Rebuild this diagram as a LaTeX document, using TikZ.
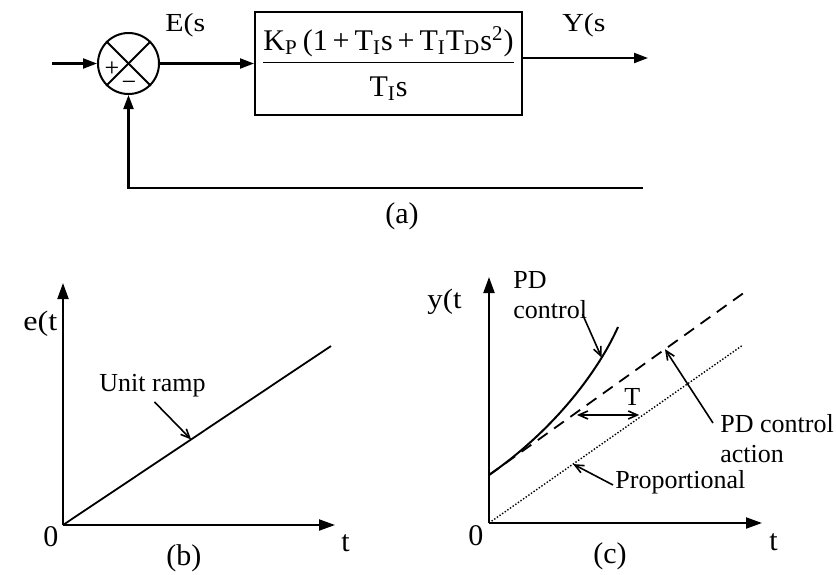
\documentclass[tikz,border=0pt]{standalone}
\usepackage{fontspec}
\setmainfont{Liberation Serif}
\usepackage{graphicx}
\usetikzlibrary{arrows.meta,calc}

\begin{document}
\begin{tikzpicture}[x=0.5pt,y=-0.5pt,
  line/.style={line width=1pt},
  flow/.style={line width=1.1pt,-{Triangle[length=7pt,width=5pt]}},
  axis/.style={line width=1pt,-{Triangle[length=8pt,width=5.5pt]}},
  pointer/.style={line width=0.8pt,-{Straight Barb[length=4.5pt,width=4pt]}},
  sig/.style={inner sep=0pt,anchor=base west,font=\fontsize{13}{15}\selectfont},
  note/.style={inner sep=0pt,anchor=base west,align=left,font=\fontsize{13}{15}\selectfont},
  big/.style={inner sep=0pt,anchor=base west,font=\fontsize{15}{18}\selectfont}]
\useasboundingbox (0,0) rectangle (836,574);

% (a) block diagram
\node[circle,draw,line width=1pt,minimum size=30.5pt,inner sep=0pt] (sum) at (128.5,63.5) {};
\draw[line] (sum.north west) -- (sum.south east);
\draw[line] (sum.north east) -- (sum.south west);
\node[inner sep=0pt,font=\fontsize{13}{14}\selectfont] (plus) at (112,69) {+};
\node[inner sep=0pt,font=\fontsize{13}{14}\selectfont] (minus) at (129,86) {−};

\node[draw,line width=1pt,minimum width=133.5pt,minimum height=51.5pt,inner sep=0pt,
  font=\fontsize{15}{18}\selectfont] (plant) at (388.5,63.5)
  {$\displaystyle\frac{\mbox{K\textsubscript{P}\,(1\,+\,T\textsubscript{I}s\,+\,T\textsubscript{I}T\textsubscript{D}s\textsuperscript{2})}}
  {\mbox{\rule{0pt}{15.5pt}T\textsubscript{I}s}}$};

\coordinate (in) at (52,63.5);
\coordinate (out) at (648,58);
\coordinate (fb) at (643,188);
\draw[flow] (in) -- (sum.west);
\draw[flow] (sum.east) -- (plant.west);
\draw[flow] (plant.east |- out) -- (out);
\draw[flow] (fb) -| (sum.south);

\node[sig] (err) at (165,31) {\scalebox{1.15}[1]{E(s}};
\node[sig] (yout) at (562,31) {\scalebox{1.15}[1]{Y(s}};
\node[big] (capa) at (385,223) {(a)};

% (b) ramp input
\coordinate (ob) at (63,525);
\coordinate (by) at (63,283);
\coordinate (bx) at (335,525);
\coordinate (rampend) at (331,346);
\draw[axis] (ob) -- (by);
\draw[axis] (ob) -- (bx);
\draw[line width=0.9pt] (ob) -- (rampend) coordinate[pos=0.478] (ramphit);
\node[sig,font=\fontsize{14}{16}\selectfont] (et) at (23,330) {\scalebox{1.15}[1]{e(t}};
\node[note] (ramp) at (99,391) {Unit ramp};
\draw[pointer] ([shift={(2,5)}]ramp.south) -- (ramphit);
\node[big] (zb) at (43,546) {0};
\node[big] (tb) at (341,551) {t};
\node[big] (capb) at (166,565) {(b)};

% (c) PD response
\coordinate (oc) at (489,523);
\coordinate (cy) at (489,277);
\coordinate (cx) at (762,523);
\coordinate (pd0) at (489,475);
\coordinate (pdend) at (745,292);
\coordinate (pend) at (743,345);
\coordinate (pdtop) at (618,327);
\draw[axis] (oc) -- (cy);
\draw[axis] (oc) -- (cx);
\draw[line width=0.9pt,dash pattern=on 6pt off 4pt] (pd0) -- (pdend)
  coordinate[pos=0.328] (dashT) coordinate[pos=0.6875] (dashhit);
\draw[line width=0.7pt,dash pattern=on 0.7pt off 0.9pt] (oc) -- (pend)
  coordinate[pos=0.607] (dotT) coordinate[pos=0.331] (dothit);
\draw[line width=1pt] (pd0) .. controls (560,425.7) and (601.4,364.5) .. (pdtop)
  coordinate[pos=0.76] (pdhit);
\draw[pointer,{Straight Barb[length=4.5pt,width=4pt]}-{Straight Barb[length=4.5pt,width=4pt]},
  shorten <=2pt,shorten >=2pt] (dashT) -- (dashT -| dotT);
\node[note] (tlag) at (624,405) {T};

\node[sig,font=\fontsize{14}{16}\selectfont] (yt) at (427,308) {\scalebox{1.1}[1]{y(t}};
\node[note,anchor=north west] (pdnote) at (513,271) {PD\\control};
\draw[pointer] ([shift={(-5,-5)}]pdnote.south east) -- (pdhit);
\node[note,anchor=north west] (actnote) at (720,414) {PD control\\action};
\draw[pointer] ([shift={(-7,9)}]actnote.north west) -- (dashhit);
\node[note] (prop) at (615,488) {Proportional};
\draw[pointer] ([shift={(-2,-3)}]prop.base west) -- (dothit);
\node[big] (zc) at (468,545) {0};
\node[big] (tc) at (769,550) {t};
\node[big] (capc) at (593,563) {(c)};
\end{tikzpicture}
\end{document}
